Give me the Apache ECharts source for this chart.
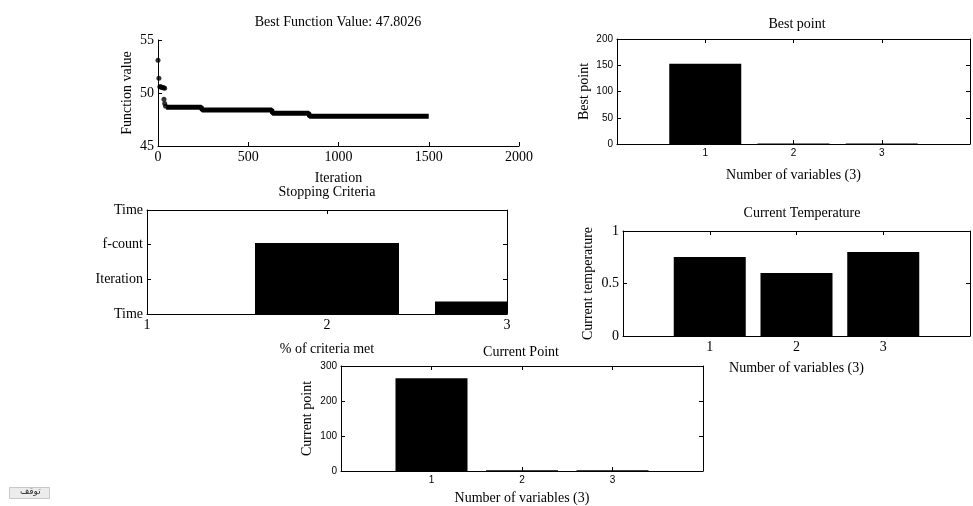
<!DOCTYPE html>
<html>
<head>
<meta charset="utf-8">
<script src="https://cdn.jsdelivr.net/npm/echarts@6/dist/echarts.min.js"></script>
<style>
  html, body { margin: 0; padding: 0; background: #fff; }
  #main { width: 973px; height: 506px; }
</style>
</head>
<body>
<div id="main"></div>
<script>
// best function value per iteration (early drops + plateaus)
var earlyIter = [[0, 53.1], [5, 51.4], [10, 50.6], [15, 50.6], [20, 50.55], [26, 50.5], [32, 50.5], [37, 50.45], [33, 49.4], [37, 49.0], [42, 48.75]];
var plateauIter = [[45, 48.65], [240, 48.65], [245, 48.4], [630, 48.4], [635, 48.1], [835, 48.1], [840, 47.8], [1500, 47.8]];

var varLabels = [1, 2, 3];
var bestPoint = [153, 0.8, 0.8];
var temperature = [0.753, 0.6, 0.8];
var currentPoint = [265, 2, 2];

var stopPos = [1, 2, 3];
var stopVals = [0, 2.05, 0.36];
var stopTicks = ['Time', 'Iteration', 'f-count', 'Time'];

var SERIF = 'Liberation Serif';
var SANS = 'Liberation Sans';

var dom = document.getElementById('main');
var myChart = echarts.init(dom);

function pairs(xs, ys) {
    return xs.map(function (x, i) { return [x, ys[i]]; });
}

function plain(v) {
    return String(v);
}

function axisBase(gridIndex, position, min, max, interval, font, fontSize, showLabel, formatter) {
    return {
        type: 'value',
        gridIndex: gridIndex,
        position: position,
        min: min,
        max: max,
        interval: interval,
        splitLine: { show: false },
        axisLine: { show: true, onZero: false, lineStyle: { color: '#000', width: 1 } },
        axisTick: { show: true, inside: true, length: 4, lineStyle: { color: '#000' } },
        axisLabel: {
            show: showLabel,
            color: '#000',
            fontFamily: font,
            fontSize: fontSize,
            margin: 4,
            formatter: formatter || plain
        }
    };
}

function midOnly(v) {
    return (v > 0 && v < 4) ? String(v) : '';
}

var grids = [
    { left: 158, top: 40, width: 361, height: 106 },
    { left: 617, top: 39, width: 360, height: 105 },
    { left: 147, top: 210, width: 360, height: 104 },
    { left: 623, top: 231, width: 360, height: 105 },
    { left: 341, top: 366, width: 362, height: 106 }
];

var nameStyle = { fontFamily: SERIF, fontSize: 14, color: '#000' };
var xAxes = [];
var yAxes = [];

// plot 0 : best function value (box off)
var x0 = axisBase(0, 'bottom', 0, 2000, 500, SERIF, 14, true);
x0.name = 'Iteration'; x0.nameLocation = 'middle'; x0.nameGap = 25;
x0.nameTextStyle = nameStyle;
xAxes.push(x0);
var y0 = axisBase(0, 'left', 45, 55, 5, SERIF, 14, true);
y0.name = 'Function value'; y0.nameLocation = 'middle'; y0.nameGap = 24;
y0.nameTextStyle = nameStyle;
yAxes.push(y0);

// plot 1 : best point
var x1 = axisBase(1, 'bottom', 0, 4, 1, SANS, 10, true, midOnly);
x1.name = 'Number of variables (3)'; x1.nameLocation = 'middle'; x1.nameGap = 24;
x1.nameTextStyle = nameStyle;
xAxes.push(x1);
xAxes.push(axisBase(1, 'top', 0, 4, 1, SANS, 10, false));
var y1 = axisBase(1, 'left', 0, 200, 50, SANS, 10, true);
y1.name = 'Best point'; y1.nameLocation = 'middle'; y1.nameGap = 26;
y1.nameTextStyle = nameStyle;
yAxes.push(y1);
yAxes.push(axisBase(1, 'right', 0, 200, 50, SANS, 10, false));

// plot 2 : stopping criteria
var x2 = axisBase(2, 'bottom', 1, 3, 1, SERIF, 14, true);
x2.name = '% of criteria met'; x2.nameLocation = 'middle'; x2.nameGap = 28;
x2.nameTextStyle = nameStyle;
xAxes.push(x2);
xAxes.push(axisBase(2, 'top', 1, 3, 1, SERIF, 14, false));
yAxes.push(axisBase(2, 'left', 0, 3, 1, SERIF, 14, true, function (v) { return stopTicks[Math.round(v)]; }));
yAxes.push(axisBase(2, 'right', 0, 3, 1, SERIF, 14, false));

// plot 3 : current temperature
var x3 = axisBase(3, 'bottom', 0, 4, 1, SERIF, 14, true, midOnly);
x3.name = 'Number of variables (3)'; x3.nameLocation = 'middle'; x3.nameGap = 25;
x3.nameTextStyle = nameStyle;
xAxes.push(x3);
xAxes.push(axisBase(3, 'top', 0, 4, 1, SERIF, 14, false));
var y3 = axisBase(3, 'left', 0, 1, 0.5, SERIF, 14, true);
y3.name = 'Current temperature'; y3.nameLocation = 'middle'; y3.nameGap = 28;
y3.nameTextStyle = nameStyle;
yAxes.push(y3);
yAxes.push(axisBase(3, 'right', 0, 1, 0.5, SERIF, 14, false));

// plot 4 : current point
var x4 = axisBase(4, 'bottom', 0, 4, 1, SANS, 10, true, midOnly);
x4.name = 'Number of variables (3)'; x4.nameLocation = 'middle'; x4.nameGap = 20;
x4.nameTextStyle = nameStyle;
xAxes.push(x4);
xAxes.push(axisBase(4, 'top', 0, 4, 1, SANS, 10, false));
var y4 = axisBase(4, 'left', 0, 300, 100, SANS, 10, true);
y4.name = 'Current point'; y4.nameLocation = 'middle'; y4.nameGap = 27;
y4.nameTextStyle = nameStyle;
yAxes.push(y4);
yAxes.push(axisBase(4, 'right', 0, 300, 100, SANS, 10, false));

function titleAt(text, cx, top) {
    return {
        text: text, left: cx, top: top, textAlign: 'center', padding: 0,
        textStyle: { fontFamily: SERIF, fontSize: 14, fontWeight: 'normal', color: '#000' }
    };
}

// bars of the stopping plot are cut at the axes box, like matlab does
function clippedBar(params, api) {
    var x = api.value(0);
    var y = api.value(1);
    var p0 = api.coord([x - 0.4, y]);
    var p1 = api.coord([x + 0.4, 0]);
    var rect = echarts.graphic.clipRectByRect(
        { x: p0[0], y: p0[1], width: p1[0] - p0[0], height: p1[1] - p0[1] },
        { x: params.coordSys.x, y: params.coordSys.y, width: params.coordSys.width, height: params.coordSys.height }
    );
    return rect && {
        type: 'rect',
        shape: rect,
        style: { fill: '#000' }
    };
}

var barStyle = { color: '#000' };

option = {
    backgroundColor: '#fff',
    animation: false,
    title: [
        titleAt('Best Function Value: 47.8026', 338, 15),
        titleAt('Best point', 797, 17),
        titleAt('Stopping Criteria', 327, 185),
        titleAt('Current Temperature', 802, 206),
        titleAt('Current Point', 521, 345)
    ],
    grid: grids,
    xAxis: xAxes,
    yAxis: yAxes,
    series: [
        {
            type: 'line', xAxisIndex: 0, yAxisIndex: 0,
            data: plateauIter, showSymbol: false,
            lineStyle: { color: '#000', width: 5 }
        },
        {
            type: 'scatter', xAxisIndex: 0, yAxisIndex: 0,
            data: earlyIter, symbolSize: 5,
            itemStyle: { color: '#000' }
        },
        {
            type: 'bar', xAxisIndex: 1, yAxisIndex: 1,
            data: pairs(varLabels, bestPoint), barWidth: 72, itemStyle: barStyle
        },
        {
            type: 'custom', xAxisIndex: 3, yAxisIndex: 3,
            data: pairs(stopPos, stopVals), renderItem: clippedBar
        },
        {
            type: 'bar', xAxisIndex: 5, yAxisIndex: 5,
            data: pairs(varLabels, temperature), barWidth: 72, itemStyle: barStyle
        },
        {
            type: 'bar', xAxisIndex: 7, yAxisIndex: 7,
            data: pairs(varLabels, currentPoint), barWidth: 72, itemStyle: barStyle
        }
    ],
    graphic: [
        {
            type: 'rect', left: 9, top: 487,
            shape: { width: 40, height: 11 },
            style: { fill: '#ececec', stroke: '#c8c8c8', lineWidth: 1 }
        },
        {
            type: 'text', left: 20, top: 487,
            style: { text: 'توقف', fill: '#333', font: '9px DejaVu Sans' }
        }
    ]
};

if (option && typeof option === "object") {
    myChart.setOption(option, true);
}
</script>
</body>
</html>
